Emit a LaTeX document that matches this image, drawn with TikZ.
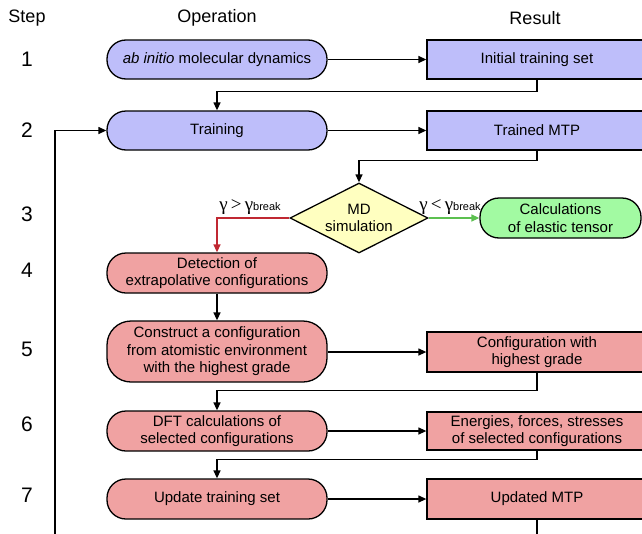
\documentclass[tikz,border=0pt]{standalone}
\usepackage{fontspec}
\setmainfont{Liberation Sans}
\newfontfamily\greekfont{Liberation Serif}
\usetikzlibrary{arrows.meta,shapes.geometric}

\definecolor{opblue}{RGB}{190,190,250}
\definecolor{oppink}{RGB}{240,162,162}
\definecolor{opgreen}{RGB}{162,250,162}
\definecolor{decyellow}{RGB}{255,255,192}
\definecolor{failred}{RGB}{192,40,50}
\definecolor{passgreen}{RGB}{92,192,80}

\tikzset{
  boxtext/.style={font=\fontsize{15}{17.5}\selectfont, align=center, text=black},
  opbox/.style={boxtext, draw=black, line width=1.3pt, rounded corners=19pt,
    minimum width=220pt, minimum height=39pt, inner sep=0pt},
  resbox/.style={boxtext, draw=black, line width=1.3pt,
    minimum width=220pt, minimum height=39pt, inner sep=0pt},
  decision/.style={boxtext, draw=black, line width=1.3pt, diamond, aspect=2,
    minimum width=138pt, minimum height=70pt, inner sep=0pt, fill=decyellow},
  header/.style={font=\fontsize{18}{20}\selectfont},
  stepnum/.style={font=\fontsize{21}{23}\selectfont},
  flow/.style={line width=1.3pt, -{Triangle[length=8pt,width=7pt]}},
  cond/.style={font=\fontsize{15}{17}\selectfont, inner sep=1pt, anchor=south},
}

\newcommand{\gammacond}[1]{{\greekfont\fontsize{19}{19}\selectfont γ\,#1\,γ}{\fontsize{11}{11}\selectfont break}}

\begin{document}
\begin{tikzpicture}[x=1pt, y=-1pt]
  \useasboundingbox (0,0) rectangle (642,533);
  \clip (0,0) rectangle (642,533);

  % column headers
  \node[header] (hstep) at (27,18) {Step};
  \node[header] (hop)   at (217,18) {Operation};
  \node[header] (hres)  at (535,18) {Result};

  % step numbers
  \node[stepnum] (s1) at (27,59)  {1};
  \node[stepnum] (s2) at (27,130) {2};
  \node[stepnum] (s3) at (27,214) {3};
  \node[stepnum] (s4) at (27,270) {4};
  \node[stepnum] (s5) at (27,349) {5};
  \node[stepnum] (s6) at (27,424) {6};
  \node[stepnum] (s7) at (27,495) {7};

  % operations
  \node[opbox, fill=opblue] (op1) at (217,59.5) {\textit{ab initio} molecular dynamics};
  \node[opbox, fill=opblue] (op2) at (217,130.5) {Training};
  \node[opbox, fill=oppink, minimum height=40pt] (op4) at (217,273) {Detection of\\extrapolative configurations};
  \node[opbox, fill=oppink, minimum height=61pt, rounded corners=24pt] (op5) at (217,351.5) {Construct a configuration\\from atomistic environment\\with the highest grade};
  \node[opbox, fill=oppink, minimum height=40pt] (op6) at (217,431) {DFT calculations of\\selected configurations};
  \node[opbox, fill=oppink, minimum height=40pt] (op7) at (217,499) {Update training set};

  % results
  \node[resbox, fill=opblue] (res1) at (537,59.5) {Initial training set};
  \node[resbox, fill=opblue] (res2) at (537,130.5) {Trained MTP};
  \node[resbox, fill=oppink, minimum height=40pt] (res5) at (537,352) {Configuration with\\highest grade};
  \node[resbox, fill=oppink, minimum height=38pt] (res6) at (537,431) {Energies, forces, stresses\\of selected configurations};
  \node[resbox, fill=oppink, minimum height=40pt] (res7) at (537,499) {Updated MTP};

  % MD step
  \node[decision] (md) at (359,218) {MD\\simulation};
  \node[opbox, fill=opgreen, minimum width=161pt, minimum height=40pt] (elast) at (560.5,218) {Calculations\\of elastic tensor};

  % horizontal operation -> result arrows
  \draw[flow] (op1) -- (res1);
  \draw[flow] (op2) -- (res2);
  \draw[flow] (op5.east |- res5.west) -- (res5.west);
  \draw[flow] (op6) -- (res6);
  \draw[flow] (op7) -- (res7);

  % result -> next operation
  \draw[flow] (res1.south) -- ++(0,12) -| (op2.north);
  \draw[flow] (res2.south) -- ++(0,10) -| (md.north);
  \draw[flow] (res5.south) -- ++(0,18) -| (op6.north);
  \draw[flow] (res6.south) -- ++(0,9) -| (op7.north);
  \draw[flow] (op4.south) -- (op5.north);

  % branches of the MD simulation
  \draw[flow, draw=failred, -{Triangle[length=8pt,width=7pt,fill=failred]}] (md.west) -| (op4.north);
  \draw[flow, draw=passgreen, -{Triangle[length=8pt,width=7pt,fill=passgreen]}] (md.east) -- (elast.west);
  \node[cond] (gtl) at (250,216) {\gammacond{>}};
  \node[cond] (ltl) at (450,216) {\gammacond{<}};

  % loop back to training
  \coordinate (loopb) at (55,560);
  \draw[flow] (res7.south) |- (loopb) |- (op2.west);
\end{tikzpicture}
\end{document}
